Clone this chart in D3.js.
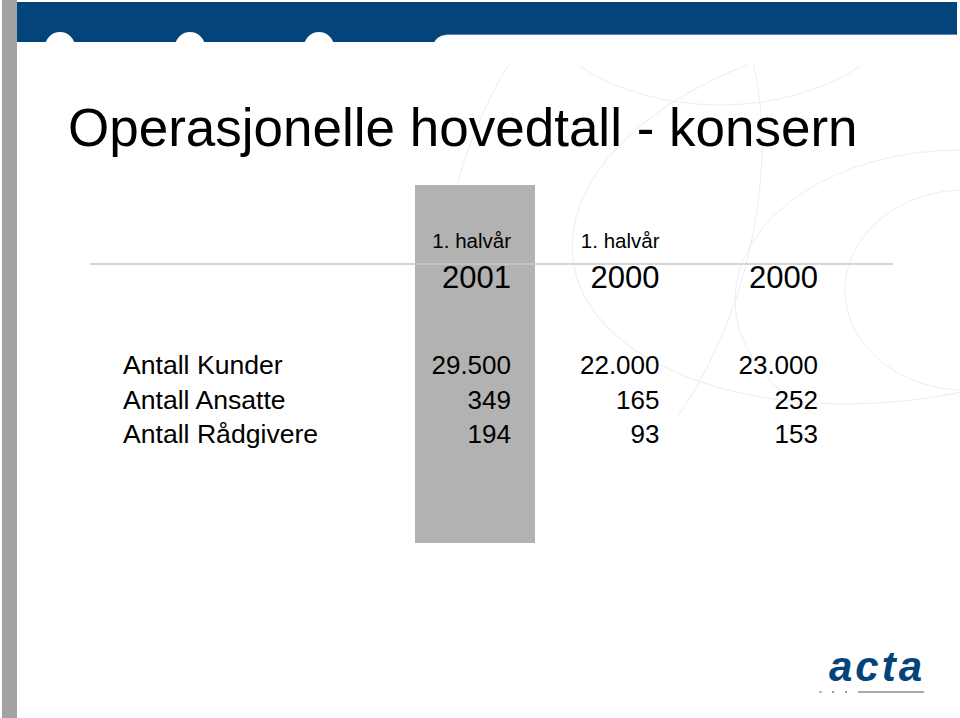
<!DOCTYPE html>
<html>
<head>
<meta charset="utf-8">
<script src="https://cdn.jsdelivr.net/npm/d3@7"></script>
<style>
  html, body { margin: 0; padding: 0; background: #fff; }
  svg { display: block; font-family: "Liberation Sans", Arial, sans-serif; }
</style>
</head>
<body>
<div id="chart"></div>
<script>
// data
var title = "Operasjonelle hovedtall - konsern";
var columns = ["h2001", "h2000", "y2000"];
var periodLabels = ["1. halvår", "1. halvår", ""];
var yearLabels = ["2001", "2000", "2000"];
var rowLabels = ["Antall Kunder", "Antall Ansatte", "Antall Rådgivere"];
var kunder = [29500, 22000, 23000];
var ansatte = [349, 165, 252];
var raadgivere = [194, 93, 153];

var width = 960, height = 718;
var blue = "#03457b";

var svg = d3.select("#chart")
  .append("svg")
    .attr("width", width)
    .attr("height", height);

// left grey strip
svg.append("rect")
  .attr("x", 2).attr("y", 0)
  .attr("width", 15).attr("height", height)
  .attr("fill", "#a3a3a3");

// faint decorative arcs in the background
svg.append("clipPath").attr("id", "decoclip")
  .append("rect")
    .attr("x", 380).attr("y", 35)
    .attr("width", 580).attr("height", 380);
var deco = svg.append("g")
  .attr("clip-path", "url(#decoclip)")
  .attr("fill", "none")
  .attr("stroke", "#ededed")
  .attr("stroke-width", 1);
[[720, -30, 200, 135, 0], [965, 290, 120, 100, 0], [960, 300, 225, 150, 0],
 [900, 215, 330, 185, -8], [600, 230, 150, 280, 15]]
  .forEach(function(e) {
    deco.append("ellipse")
      .attr("cx", e[0]).attr("cy", e[1])
      .attr("rx", e[2]).attr("ry", e[3])
      .attr("transform", "rotate(" + e[4] + "," + e[0] + "," + e[1] + ")");
  });

// top banner with white bumps
svg.append("rect")
  .attr("x", 17).attr("y", 2)
  .attr("width", 940).attr("height", 40)
  .attr("fill", blue);
svg.append("rect")
  .attr("x", 433).attr("y", 35)
  .attr("width", 540).attr("height", 30)
  .attr("rx", 13)
  .attr("fill", "#fff");
svg.append("rect")
  .attr("x", 446).attr("y", 34)
  .attr("width", 511).attr("height", 1)
  .attr("fill", "#5f87ad");
[60, 190, 319].forEach(function(cx) {
  svg.append("circle")
    .attr("cx", cx).attr("cy", 47).attr("r", 15)
    .attr("fill", "#fff");
});

// title
svg.append("text")
  .attr("x", 68).attr("y", 146)
  .attr("font-size", "53px")
  .attr("fill", "#000")
  .text(title);

// column / row scales
var x = d3.scaleOrdinal()
  .domain(columns)
  .range([511, 659.5, 818]);
var y = d3.scalePoint()
  .domain(rowLabels)
  .range([374, 443]);

// highlighted column
svg.append("rect")
  .attr("x", x(columns[0]) - 96)
  .attr("y", 185)
  .attr("width", 120)
  .attr("height", 358)
  .attr("fill", "#b2b2b2");

// header rule
svg.append("line")
  .attr("x1", 90).attr("x2", 893)
  .attr("y1", 264).attr("y2", 264)
  .attr("stroke", "#c8c8c8")
  .attr("stroke-width", 1.5);

// header labels
svg.selectAll(".period")
  .data(columns)
  .enter().append("text")
    .attr("x", function(d) { return x(d); })
    .attr("y", 247.5)
    .attr("text-anchor", "end")
    .attr("font-size", "20.5px")
    .text(function(d, i) { return periodLabels[i]; });

svg.selectAll(".year")
  .data(columns)
  .enter().append("text")
    .attr("x", function(d) { return x(d); })
    .attr("y", 287.5)
    .attr("text-anchor", "end")
    .attr("font-size", "31px")
    .text(function(d, i) { return yearLabels[i]; });

// rows
var nb = d3.formatLocale({ decimal: ",", thousands: ".", grouping: [3], currency: ["kr ", ""] });
var fmt = nb.format(",d");
var rows = [kunder, ansatte, raadgivere];

svg.selectAll(".rowlabel")
  .data(rowLabels)
  .enter().append("text")
    .attr("x", 123)
    .attr("y", function(d) { return y(d); })
    .attr("font-size", "26.6px")
    .text(function(d) { return d; });

rows.forEach(function(vals, r) {
  svg.selectAll(".cell" + r)
    .data(vals)
    .enter().append("text")
      .attr("x", function(d, i) { return x(columns[i]); })
      .attr("y", y(rowLabels[r]))
      .attr("text-anchor", "end")
      .attr("font-size", "26px")
      .text(function(d) { return fmt(d); });
});

// acta logo
svg.append("text")
  .attr("x", 829).attr("y", 681)
  .attr("font-size", "42px")
  .attr("font-weight", "bold")
  .attr("font-style", "italic")
  .attr("fill", blue)
  .attr("textLength", 93)
  .attr("lengthAdjust", "spacing")
  .text("acta");
[820.5, 833, 846].forEach(function(cx) {
  svg.append("rect")
    .attr("x", cx - 1).attr("y", 691)
    .attr("width", 2).attr("height", 2)
    .attr("fill", "#9a9a9a");
});
svg.append("line")
  .attr("x1", 858).attr("x2", 924)
  .attr("y1", 692).attr("y2", 692)
  .attr("stroke", "#a8a8a8")
  .attr("stroke-width", 2);
</script>
</body>
</html>
